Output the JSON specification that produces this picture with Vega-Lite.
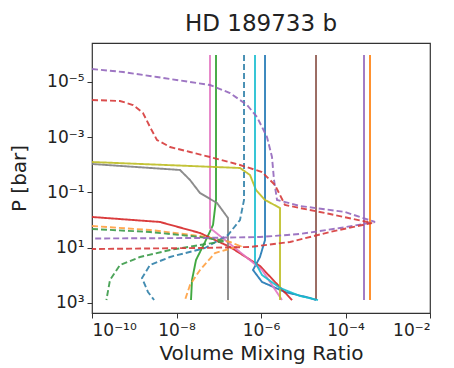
{
  "$schema": "https://vega.github.io/schema/vega-lite/v6.json",
  "width": 338,
  "height": 270,
  "autosize": "none",
  "padding": {"left": 92, "top": 43, "right": 24, "bottom": 55},
  "background": "white",
  "title": {"text": "HD 189733 b", "font": "DejaVu Sans", "fontSize": 23, "fontWeight": "normal", "color": "#222", "offset": 7, "anchor": "middle"},
  "config": {
    "view": {"stroke": "#333", "strokeWidth": 1.2},
    "axis": {"grid": false, "domain": false, "labelFont": "DejaVu Sans", "titleFont": "DejaVu Sans", "labelFontSize": 17, "titleFontSize": 20, "titleFontWeight": "normal", "labelColor": "#222", "titleColor": "#222", "tickColor": "#333", "tickSize": 5}
  },
  "datasets": {
    "lines": [
      {"sp": "blue", "st": "solid", "i": 0, "lx": -5.905, "lp": -5.98},
      {"sp": "blue", "st": "solid", "i": 1, "lx": -5.905, "lp": 0.725},
      {"sp": "blue", "st": "solid", "i": 2, "lx": -6.024, "lp": 1.341},
      {"sp": "blue", "st": "solid", "i": 3, "lx": -6.189, "lp": 1.812},
      {"sp": "blue", "st": "solid", "i": 4, "lx": -5.976, "lp": 2.246},
      {"sp": "blue", "st": "solid", "i": 5, "lx": -5.432, "lp": 2.609},
      {"sp": "blue", "st": "solid", "i": 6, "lx": -4.84, "lp": 2.826},
      {"sp": "blue", "st": "solid", "i": 7, "lx": -4.698, "lp": 2.9},
      {"sp": "orange", "st": "solid", "i": 0, "lx": -3.42, "lp": -5.98},
      {"sp": "orange", "st": "solid", "i": 1, "lx": -3.42, "lp": 2.9},
      {"sp": "green", "st": "solid", "i": 0, "lx": -7.065, "lp": -5.98},
      {"sp": "green", "st": "solid", "i": 1, "lx": -7.065, "lp": -0.725},
      {"sp": "green", "st": "solid", "i": 2, "lx": -7.136, "lp": 0.181},
      {"sp": "green", "st": "solid", "i": 3, "lx": -7.325, "lp": 0.797},
      {"sp": "green", "st": "solid", "i": 4, "lx": -7.538, "lp": 1.449},
      {"sp": "green", "st": "solid", "i": 5, "lx": -7.633, "lp": 2.174},
      {"sp": "green", "st": "solid", "i": 6, "lx": -7.657, "lp": 2.9},
      {"sp": "red", "st": "solid", "i": 0, "lx": -10, "lp": -0.109},
      {"sp": "red", "st": "solid", "i": 1, "lx": -8.391, "lp": 0.072},
      {"sp": "red", "st": "solid", "i": 2, "lx": -7.444, "lp": 0.471},
      {"sp": "red", "st": "solid", "i": 3, "lx": -6.734, "lp": 0.978},
      {"sp": "red", "st": "solid", "i": 4, "lx": -6.024, "lp": 1.667},
      {"sp": "red", "st": "solid", "i": 5, "lx": -5.266, "lp": 2.9},
      {"sp": "purple", "st": "solid", "i": 0, "lx": -3.562, "lp": -5.98},
      {"sp": "purple", "st": "solid", "i": 1, "lx": -3.562, "lp": 2.9},
      {"sp": "brown", "st": "solid", "i": 0, "lx": -4.698, "lp": -5.98},
      {"sp": "brown", "st": "solid", "i": 1, "lx": -4.698, "lp": 2.9},
      {"sp": "pink", "st": "solid", "i": 0, "lx": -7.207, "lp": -5.98},
      {"sp": "pink", "st": "solid", "i": 1, "lx": -7.207, "lp": 0.29},
      {"sp": "pink", "st": "solid", "i": 2, "lx": -6.615, "lp": 1.014},
      {"sp": "pink", "st": "solid", "i": 3, "lx": -5.976, "lp": 1.812},
      {"sp": "pink", "st": "solid", "i": 4, "lx": -5.503, "lp": 2.9},
      {"sp": "gray", "st": "solid", "i": 0, "lx": -10, "lp": -2.029},
      {"sp": "gray", "st": "solid", "i": 1, "lx": -7.917, "lp": -1.812},
      {"sp": "gray", "st": "solid", "i": 2, "lx": -7.68, "lp": -1.449},
      {"sp": "gray", "st": "solid", "i": 3, "lx": -7.444, "lp": -0.978},
      {"sp": "gray", "st": "solid", "i": 4, "lx": -7.041, "lp": -0.616},
      {"sp": "gray", "st": "solid", "i": 5, "lx": -6.781, "lp": -0.072},
      {"sp": "gray", "st": "solid", "i": 6, "lx": -6.781, "lp": 2.9},
      {"sp": "olive", "st": "solid", "i": 0, "lx": -10, "lp": -2.101},
      {"sp": "olive", "st": "solid", "i": 1, "lx": -6.497, "lp": -1.884},
      {"sp": "olive", "st": "solid", "i": 2, "lx": -6.26, "lp": -1.63},
      {"sp": "olive", "st": "solid", "i": 3, "lx": -6.118, "lp": -1.087},
      {"sp": "olive", "st": "solid", "i": 4, "lx": -5.905, "lp": -0.725},
      {"sp": "olive", "st": "solid", "i": 5, "lx": -5.55, "lp": -0.435},
      {"sp": "olive", "st": "solid", "i": 6, "lx": -5.55, "lp": 2.9},
      {"sp": "cyan", "st": "solid", "i": 0, "lx": -6.142, "lp": -5.98},
      {"sp": "cyan", "st": "solid", "i": 1, "lx": -6.142, "lp": 1.522},
      {"sp": "cyan", "st": "solid", "i": 2, "lx": -5.976, "lp": 1.993},
      {"sp": "cyan", "st": "solid", "i": 3, "lx": -5.55, "lp": 2.464},
      {"sp": "cyan", "st": "solid", "i": 4, "lx": -5.077, "lp": 2.754},
      {"sp": "cyan", "st": "solid", "i": 5, "lx": -4.651, "lp": 2.9},
      {"sp": "blue_d", "st": "dashed", "i": 0, "lx": -6.402, "lp": -5.98},
      {"sp": "blue_d", "st": "dashed", "i": 1, "lx": -6.402, "lp": -0.725},
      {"sp": "blue_d", "st": "dashed", "i": 2, "lx": -6.497, "lp": 0.0},
      {"sp": "blue_d", "st": "dashed", "i": 3, "lx": -6.781, "lp": 0.543},
      {"sp": "blue_d", "st": "dashed", "i": 4, "lx": -7.325, "lp": 1.014},
      {"sp": "blue_d", "st": "dashed", "i": 5, "lx": -8.154, "lp": 1.341},
      {"sp": "blue_d", "st": "dashed", "i": 6, "lx": -8.627, "lp": 1.63},
      {"sp": "blue_d", "st": "dashed", "i": 7, "lx": -8.817, "lp": 2.101},
      {"sp": "blue_d", "st": "dashed", "i": 8, "lx": -8.675, "lp": 2.609},
      {"sp": "blue_d", "st": "dashed", "i": 9, "lx": -8.53, "lp": 2.9},
      {"sp": "orange_d", "st": "dashed", "i": 0, "lx": -10, "lp": 0.217},
      {"sp": "orange_d", "st": "dashed", "i": 1, "lx": -8.627, "lp": 0.362},
      {"sp": "orange_d", "st": "dashed", "i": 2, "lx": -7.444, "lp": 0.58},
      {"sp": "orange_d", "st": "dashed", "i": 3, "lx": -6.734, "lp": 0.797},
      {"sp": "orange_d", "st": "dashed", "i": 4, "lx": -6.497, "lp": 0.942},
      {"sp": "orange_d", "st": "dashed", "i": 5, "lx": -7.089, "lp": 1.196},
      {"sp": "orange_d", "st": "dashed", "i": 6, "lx": -7.444, "lp": 1.812},
      {"sp": "orange_d", "st": "dashed", "i": 7, "lx": -7.68, "lp": 2.355},
      {"sp": "orange_d", "st": "dashed", "i": 8, "lx": -7.799, "lp": 2.9},
      {"sp": "green_d", "st": "dashed", "i": 0, "lx": -10, "lp": 0.326},
      {"sp": "green_d", "st": "dashed", "i": 1, "lx": -8.627, "lp": 0.435},
      {"sp": "green_d", "st": "dashed", "i": 2, "lx": -7.444, "lp": 0.616},
      {"sp": "green_d", "st": "dashed", "i": 3, "lx": -6.852, "lp": 0.761},
      {"sp": "green_d", "st": "dashed", "i": 4, "lx": -7.444, "lp": 0.906},
      {"sp": "green_d", "st": "dashed", "i": 5, "lx": -8.154, "lp": 1.087},
      {"sp": "green_d", "st": "dashed", "i": 6, "lx": -8.864, "lp": 1.341},
      {"sp": "green_d", "st": "dashed", "i": 7, "lx": -9.337, "lp": 1.63},
      {"sp": "green_d", "st": "dashed", "i": 8, "lx": -9.574, "lp": 2.174},
      {"sp": "green_d", "st": "dashed", "i": 9, "lx": -9.66, "lp": 2.9},
      {"sp": "purple_d", "st": "dashed", "i": 0, "lx": -10, "lp": -5.471},
      {"sp": "purple_d", "st": "dashed", "i": 1, "lx": -9.266, "lp": -5.362},
      {"sp": "purple_d", "st": "dashed", "i": 2, "lx": -8.462, "lp": -5.181},
      {"sp": "purple_d", "st": "dashed", "i": 3, "lx": -7.68, "lp": -5.0},
      {"sp": "purple_d", "st": "dashed", "i": 4, "lx": -7.207, "lp": -4.891},
      {"sp": "purple_d", "st": "dashed", "i": 5, "lx": -6.734, "lp": -4.601},
      {"sp": "purple_d", "st": "dashed", "i": 6, "lx": -6.331, "lp": -4.167},
      {"sp": "purple_d", "st": "dashed", "i": 7, "lx": -6.095, "lp": -3.732},
      {"sp": "purple_d", "st": "dashed", "i": 8, "lx": -5.858, "lp": -3.007},
      {"sp": "purple_d", "st": "dashed", "i": 9, "lx": -5.74, "lp": -2.283},
      {"sp": "purple_d", "st": "dashed", "i": 10, "lx": -5.692, "lp": -1.449},
      {"sp": "purple_d", "st": "dashed", "i": 11, "lx": -5.621, "lp": -0.725},
      {"sp": "purple_d", "st": "dashed", "i": 12, "lx": -5.077, "lp": -0.507},
      {"sp": "purple_d", "st": "dashed", "i": 13, "lx": -4.012, "lp": -0.29},
      {"sp": "purple_d", "st": "dashed", "i": 14, "lx": -3.302, "lp": 0.072},
      {"sp": "purple_d", "st": "dashed", "i": 15, "lx": -4.13, "lp": 0.29},
      {"sp": "purple_d", "st": "dashed", "i": 16, "lx": -5.077, "lp": 0.507},
      {"sp": "purple_d", "st": "dashed", "i": 17, "lx": -6.024, "lp": 0.616},
      {"sp": "purple_d", "st": "dashed", "i": 18, "lx": -7.444, "lp": 0.652},
      {"sp": "purple_d", "st": "dashed", "i": 19, "lx": -10, "lp": 0.67},
      {"sp": "red_d", "st": "dashed", "i": 0, "lx": -10, "lp": -4.348},
      {"sp": "red_d", "st": "dashed", "i": 1, "lx": -9.337, "lp": -4.312},
      {"sp": "red_d", "st": "dashed", "i": 2, "lx": -9.03, "lp": -4.167},
      {"sp": "red_d", "st": "dashed", "i": 3, "lx": -8.793, "lp": -3.877},
      {"sp": "red_d", "st": "dashed", "i": 4, "lx": -8.627, "lp": -3.37},
      {"sp": "red_d", "st": "dashed", "i": 5, "lx": -8.462, "lp": -2.899},
      {"sp": "red_d", "st": "dashed", "i": 6, "lx": -8.154, "lp": -2.645},
      {"sp": "red_d", "st": "dashed", "i": 7, "lx": -7.68, "lp": -2.464},
      {"sp": "red_d", "st": "dashed", "i": 8, "lx": -7.207, "lp": -2.283},
      {"sp": "red_d", "st": "dashed", "i": 9, "lx": -6.497, "lp": -1.993},
      {"sp": "red_d", "st": "dashed", "i": 10, "lx": -5.976, "lp": -1.739},
      {"sp": "red_d", "st": "dashed", "i": 11, "lx": -5.669, "lp": -1.268},
      {"sp": "red_d", "st": "dashed", "i": 12, "lx": -5.432, "lp": -0.543},
      {"sp": "red_d", "st": "dashed", "i": 13, "lx": -4.367, "lp": -0.217},
      {"sp": "red_d", "st": "dashed", "i": 14, "lx": -3.373, "lp": 0.109},
      {"sp": "red_d", "st": "dashed", "i": 15, "lx": -4.367, "lp": 0.435},
      {"sp": "red_d", "st": "dashed", "i": 16, "lx": -5.314, "lp": 0.797},
      {"sp": "red_d", "st": "dashed", "i": 17, "lx": -6.26, "lp": 0.978},
      {"sp": "red_d", "st": "dashed", "i": 18, "lx": -7.444, "lp": 1.014},
      {"sp": "red_d", "st": "dashed", "i": 19, "lx": -10, "lp": 1.051}
    ]
  },
  "data": {"name": "lines"},
  "mark": {"type": "line", "strokeWidth": 1.9, "opacity": 0.9, "clip": true},
  "encoding": {
    "x": {"field": "lx", "type": "quantitative",
      "scale": {"domain": [-10, -2], "nice": false, "zero": false},
      "axis": {"title": "Volume Mixing Ratio", "values": [-10, -8, -6, -4, -2], "labelPadding": 4, "titlePadding": 5,
        "labelExpr": "datum.value == -10 ? '10⁻¹⁰' : datum.value == -8 ? '10⁻⁸' : datum.value == -6 ? '10⁻⁶' : datum.value == -4 ? '10⁻⁴' : '10⁻²'"}},
    "y": {"field": "lp", "type": "quantitative",
      "scale": {"domain": [-6.413, 3.37], "nice": false, "zero": false, "reverse": true},
      "axis": {"title": "P [bar]", "values": [-5, -3, -1, 1, 3], "labelPadding": 3, "titlePadding": 17,
        "labelExpr": "datum.value == -5 ? '10⁻⁵' : datum.value == -3 ? '10⁻³' : datum.value == -1 ? '10⁻¹' : datum.value == 1 ? '10¹' : '10³'"}},
    "color": {"field": "sp", "type": "nominal", "legend": null,
      "scale": {"domain": ["blue", "orange", "green", "red", "purple", "brown", "pink", "gray", "olive", "cyan", "blue_d", "orange_d", "green_d", "red_d", "purple_d"],
        "range": ["#1f77b4", "#ff7f0e", "#2ca02c", "#d62728", "#9467bd", "#8c564b", "#e377c2", "#7f7f7f", "#bcbd22", "#17becf", "#2f7fa8", "#ffa040", "#3a9a48", "#d63a3a", "#9467bd"]}},
    "strokeDash": {"field": "st", "type": "nominal", "legend": null,
      "scale": {"domain": ["solid", "dashed"], "range": [[1, 0], [6, 3]]}},
    "detail": {"field": "sp"},
    "order": {"field": "i", "type": "quantitative"}
  }
}
